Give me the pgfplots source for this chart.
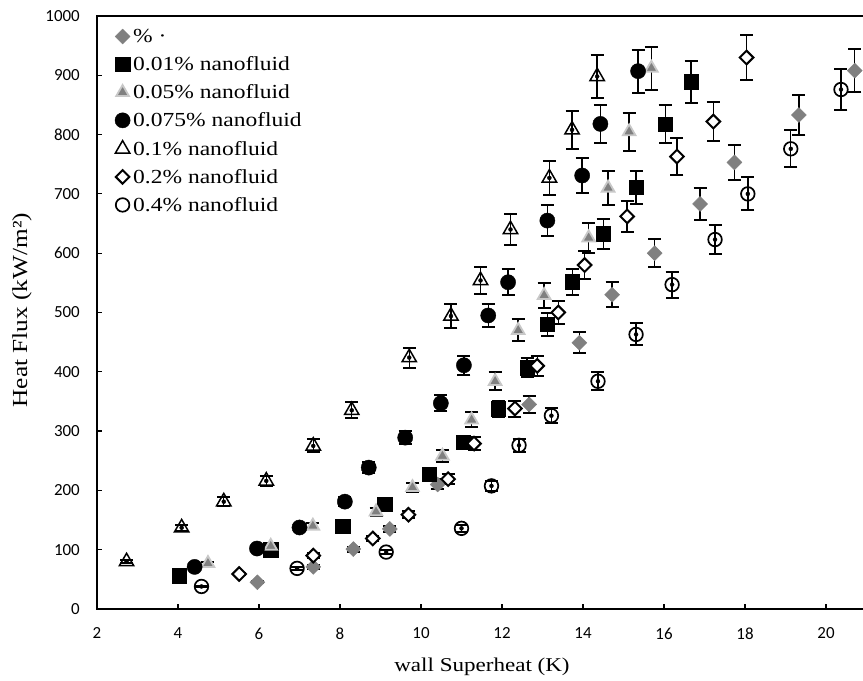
\documentclass[border=0pt]{standalone}
\usepackage{fontspec}
\setmainfont{Liberation Serif}[FakeStretch=1.18]
\newfontfamily\tickfont{Carlito}
\usepackage{pgfplots}
\pgfplotsset{compat=1.18}
\definecolor{dgray}{HTML}{808080}
\definecolor{lgray}{HTML}{C8C8C8}

\pgfplotsset{
  ebar/.style={only marks, mark=none, forget plot,
    error bars/.cd, y dir=both, y fixed relative=0.04,
    error bar style={line width=1.4bp, black},
    error mark=-, error mark options={rotate=90, mark size=6.5bp, line width=2bp, black}},
}

\begin{document}
\begin{tikzpicture}[x=1bp,y=1bp]
\path[use as bounding box] (-97,-72) rectangle (766,609);
\begin{axis}[
  at={(0,0)}, anchor=south west,
  scale only axis, width=766bp, height=593bp,
  xmin=2, xmax=20.914, ymin=0, ymax=1000,
  xtick={2,4,...,20}, ytick={0,100,...,1000},
  tick align=inside, xtick pos=left, ytick pos=left,
  major tick length=5bp,
  every tick/.style={black, line width=1.2bp},
  axis line style={draw=none},
  clip=false,
  /pgf/number format/assume math mode=true,
  /pgf/number format/1000 sep={},
  ticklabel style={font=\tickfont\fontsize{17}{17}\selectfont},
  xticklabel style={anchor=center, inner sep=0pt, yshift=-24.5bp},
  yticklabel style={anchor=east, inner sep=0pt, xshift=-17bp},
  xlabel={wall Superheat (K)},
  xlabel style={at={(rel axis cs:0.5026,-0.0978)}, anchor=center, inner sep=0pt, font=\fontsize{19.6}{20}\selectfont},
  ylabel={Heat Flux (kW/m²)},
  ylabel style={at={(rel axis cs:-0.0979,0.504)}, anchor=center, inner sep=0pt, font=\fontsize{21.5}{22}\selectfont},
  legend cell align=left,
  legend style={at={(rel axis cs:0.0235,0.978)}, anchor=north west, draw=none, fill=none,
    inner sep=0pt, outer sep=0pt, row sep=12.5bp, column sep=3bp,
    font=\fontsize{20}{24}\selectfont, nodes={inner sep=0pt}},
  legend image code/.code={\draw[#1] plot coordinates {(0bp,0bp)};},
]
% error bars (drawn first)
\addplot[ebar] coordinates {(5.96,45) (7.34,71) (8.33,101) (9.23,135) (10.41,210) (12.67,345) (13.91,449) (14.72,530) (15.77,600) (16.89,683) (17.74,753) (19.33,833) (20.71,908)};
\addplot[ebar] coordinates {(4.03,56) (6.29,100) (8.07,140) (9.10,177) (10.20,227) (11.04,281) (11.91,338) (12.62,407) (13.12,480) (13.74,552) (14.50,633) (15.31,711) (16.03,818) (16.67,889)};
\addplot[ebar] coordinates {(4.74,77) (6.29,106) (7.33,140) (8.89,164) (9.79,205) (10.53,258) (11.25,319) (11.83,384) (12.40,470) (13.04,529) (14.14,626) (14.62,710) (15.14,805) (15.69,912)};
\addplot[ebar] coordinates {(4.41,71) (5.95,102) (7.00,137.5) (8.12,181) (8.71,238.5) (9.61,289) (10.49,347) (11.06,411) (11.66,495) (12.15,551) (13.12,655) (13.98,731) (14.43,818) (15.36,907)};
\addplot[ebar] coordinates {(2.73,80) (4.09,137) (5.13,181) (6.18,216) (7.34,275) (8.29,335) (9.71,424) (10.74,494) (11.47,554) (12.21,640) (13.17,727) (13.73,808) (14.35,898)};
\addplot[ebar] coordinates {(5.51,59) (7.34,90) (8.81,119) (9.69,159) (10.67,219) (11.31,279) (12.32,338) (12.87,410) (13.39,500) (14.04,580) (15.09,662) (16.32,763) (17.22,822) (18.04,930)};
\addplot[ebar] coordinates {(4.58,38) (6.94,68.5) (9.14,96) (11.00,136) (11.74,207.6) (12.42,276) (13.22,326) (14.37,384) (15.31,463) (16.20,547) (17.26,623) (18.07,700) (19.13,776) (20.37,876)};
% markers
\addplot[only marks, mark=square*, mark size=5.3bp, mark options={rotate=45, draw=dgray, fill=dgray}]
 coordinates {(5.96,45) (7.34,71) (8.33,101) (9.23,135) (10.41,210) (12.67,345) (13.91,449) (14.72,530) (15.77,600) (16.89,683) (17.74,753) (19.33,833) (20.71,908)};
\addlegendentry{\% ·}
\addplot[only marks, mark=square*, mark size=7.2bp, mark options={draw=black, fill=black}]
 coordinates {(4.03,56) (6.29,100) (8.07,140) (9.10,177) (10.20,227) (11.04,281) (11.91,338) (12.62,407) (13.12,480) (13.74,552) (14.50,633) (15.31,711) (16.03,818) (16.67,889)};
\addlegendentry{0.01\% nanofluid}
\addplot[only marks, mark=triangle*, mark size=7.3bp, mark options={draw=lgray, fill=dgray, line width=1.8bp}]
 coordinates {(4.74,77) (6.29,106) (7.33,140) (8.89,164) (9.79,205) (10.53,258) (11.25,319) (11.83,384) (12.40,470) (13.04,529) (14.14,626) (14.62,710) (15.14,805) (15.69,912)};
\addlegendentry{0.05\% nanofluid}
\addplot[only marks, mark=*, mark size=7.6bp, mark options={draw=black, fill=black}]
 coordinates {(4.41,71) (5.95,102) (7.00,137.5) (8.12,181) (8.71,238.5) (9.61,289) (10.49,347) (11.06,411) (11.66,495) (12.15,551) (13.12,655) (13.98,731) (14.43,818) (15.36,907)};
\addlegendentry{0.075\% nanofluid}
\addplot[only marks, mark=triangle, mark size=8.3bp, mark options={draw=black, fill=none, line width=1.5bp}]
 coordinates {(2.73,80) (4.09,137) (5.13,181) (6.18,216) (7.34,275) (8.29,335) (9.71,424) (10.74,494) (11.47,554) (12.21,640) (13.17,727) (13.73,808) (14.35,898)};
\addlegendentry{0.1\% nanofluid}
\addplot[only marks, mark=square*, mark size=4.8bp, mark options={rotate=45, draw=black, fill=white, line width=2bp}]
 coordinates {(5.51,59) (7.34,90) (8.81,119) (9.69,159) (10.67,219) (11.31,279) (12.32,338) (12.87,410) (13.39,500) (14.04,580) (15.09,662) (16.32,763) (17.22,822) (18.04,930)};
\addlegendentry{0.2\% nanofluid}
\addplot[only marks, mark=o, mark size=6.8bp, mark options={draw=black, fill=none, line width=1.7bp}]
 coordinates {(4.58,38) (6.94,68.5) (9.14,96) (11.00,136) (11.74,207.6) (12.42,276) (13.22,326) (14.37,384) (15.31,463) (16.20,547) (17.26,623) (18.07,700) (19.13,776) (20.37,876)};
\addlegendentry{0.4\% nanofluid}
% axis lines
\draw[line width=2.7bp, line cap=rect] (rel axis cs:0,1) -- (rel axis cs:0,0) -- (rel axis cs:1,0);
\draw[line width=2bp] (rel axis cs:0,1) -- (rel axis cs:1,1);
\end{axis}
\end{tikzpicture}
\end{document}
